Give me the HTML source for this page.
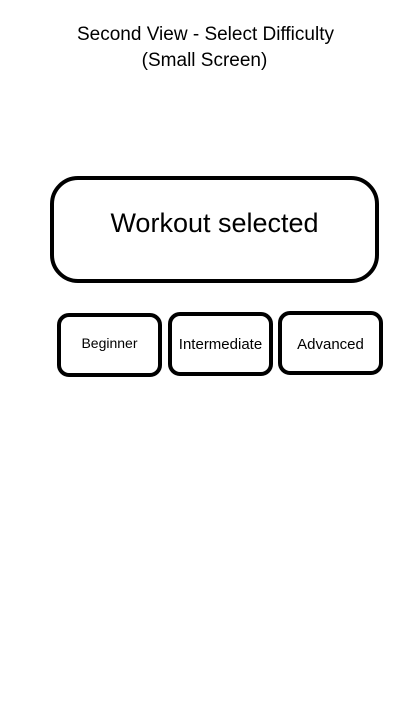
<!DOCTYPE html>
<html><head><style>
html,body{margin:0;padding:0;background:#fff;width:411px;height:704px;overflow:hidden;font-family:"Liberation Sans",sans-serif;color:#000}
.t{position:absolute;left:0;width:411px;text-align:center;font-size:19px}
.b{position:absolute;box-sizing:border-box;border:4px solid #000;display:flex;align-items:center;justify-content:center}
</style></head><body>
<div class="t" style="top:24px;left:0px">Second View - Select Difficulty</div>
<div class="t" style="top:50px;left:-1px">(Small Screen)</div>
<div class="b" style="left:50px;top:176px;width:329px;height:107px;border-radius:28px;font-size:27px;padding-bottom:12px">Workout selected</div>
<div class="b" style="left:57px;top:313px;width:105px;height:64px;border-radius:12px;font-size:14px;padding-bottom:4px">Beginner</div>
<div class="b" style="left:168px;top:312px;width:105px;height:64px;border-radius:12px;font-size:15px;padding-bottom:0px">Intermediate</div>
<div class="b" style="left:278px;top:311px;width:105px;height:64px;border-radius:12px;font-size:15px;padding-top:2px">Advanced</div>
</body></html>
